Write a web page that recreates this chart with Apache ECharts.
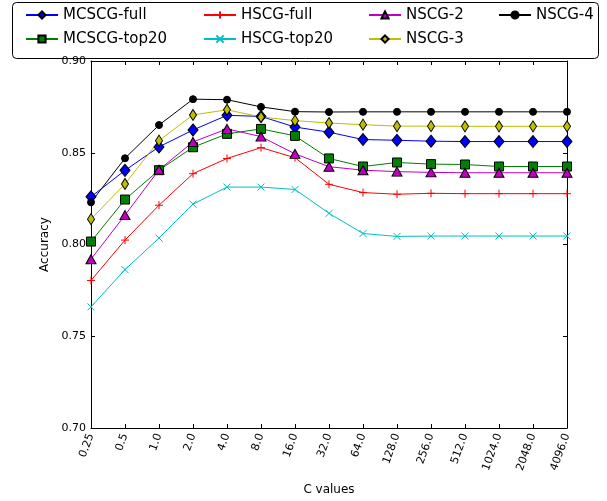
<!DOCTYPE html>
<html>
<head>
<meta charset="utf-8">
<script src="https://cdn.jsdelivr.net/npm/echarts@6/dist/echarts.min.js"></script>
<style>html,body{margin:0;padding:0;background:#fff}#c{width:607px;height:501px}</style>
</head>
<body>
<div id="c"></div>
<script>
const cValues = ['0.25','0.5','1.0','2.0','4.0','8.0','16.0','32.0','64.0','128.0','256.0','512.0','1024.0','2048.0','4096.0'];
const mcscgFull  = [0.826, 0.8404, 0.8532, 0.8624, 0.8704, 0.8698, 0.864, 0.8612, 0.8572, 0.8568, 0.8563, 0.8561, 0.8561, 0.8561, 0.8561];
const mcscgTop20 = [0.8016, 0.8245, 0.8405, 0.853, 0.8603, 0.863, 0.8592, 0.8469, 0.8425, 0.8447, 0.8438, 0.8436, 0.8425, 0.8425, 0.8425];
const hscgFull   = [0.7804, 0.8024, 0.8214, 0.8386, 0.8469, 0.8528, 0.8473, 0.8328, 0.8283, 0.8274, 0.8279, 0.8277, 0.8277, 0.8277, 0.8277];
const hscgTop20  = [0.766, 0.7863, 0.8035, 0.822, 0.8313, 0.8313, 0.830, 0.817, 0.806, 0.8044, 0.8046, 0.8046, 0.8046, 0.8046, 0.8046];
const nscg2      = [0.792, 0.816, 0.8407, 0.8559, 0.863, 0.8588, 0.8494, 0.8424, 0.8405, 0.8397, 0.8393, 0.8391, 0.8391, 0.8391, 0.8391];
const nscg3      = [0.8138, 0.833, 0.8566, 0.8706, 0.8734, 0.8695, 0.8675, 0.8662, 0.8653, 0.8645, 0.8645, 0.8644, 0.8644, 0.8644, 0.8644];
const nscg4      = [0.823, 0.847, 0.8651, 0.8792, 0.8789, 0.875, 0.8724, 0.8722, 0.8723, 0.8723, 0.8723, 0.8723, 0.8723, 0.8723, 0.8723];
const yTicks = [0.70, 0.75, 0.80, 0.85, 0.90];

const FONT = 'DejaVu Sans';
const chart = echarts.init(document.getElementById('c'), null, {renderer: 'canvas'});

function mk(name, data, color, symbol, size, stroke) {
  return {
    name: name, type: 'line', data: data, xAxisIndex: 0, yAxisIndex: 0,
    symbol: symbol, symbolSize: size, showAllSymbol: true,
    lineStyle: {color: color, width: 1},
    itemStyle: stroke ? {color: color, borderColor: color, borderWidth: 1}
                      : {color: color, borderColor: '#000', borderWidth: 1},
    emphasis: {disabled: true}
  };
}
const PLUS = 'path://M5,0L5,10M0,5L10,5';
const CROSS = 'path://M0,0L10,10M0,10L10,0';

function legendCol(left, items) {
  return {
    orient: 'vertical', left: left, top: 7, padding: 0,
    itemGap: 8, itemWidth: 32, itemHeight: 9,
    textStyle: {fontFamily: FONT, fontSize: 15, color: '#000', lineHeight: 16},
    data: items
  };
}

const catAxisBase = {
  type: 'category', data: cValues, boundaryGap: false,
  axisLine: {show: true, lineStyle: {color: '#000', width: 1}},
  axisTick: {show: true, inside: true, length: 4, interval: 0, lineStyle: {color: '#000'}},
  splitLine: {show: false}
};
const valAxisBase = {
  type: 'value', min: yTicks[0], max: yTicks[yTicks.length - 1], interval: 0.05,
  axisLine: {show: true, lineStyle: {color: '#000', width: 1}},
  axisTick: {show: true, inside: true, length: 4, lineStyle: {color: '#000'}},
  splitLine: {show: false}
};

chart.setOption({
  animation: false,
  backgroundColor: '#fff',
  grid: {left: 91, right: 40, top: 61, bottom: 72, containLabel: false},
  graphic: [{
    type: 'rect', left: 12, top: 2, z: 0,
    shape: {width: 586, height: 56, r: 4},
    style: {fill: '#fff', stroke: '#000', lineWidth: 1}
  }],
  legend: [
    legendCol(25, ['MCSCG-full', 'MCSCG-top20']),
    legendCol(203, ['HSCG-full', 'HSCG-top20']),
    legendCol(368, ['NSCG-2', 'NSCG-3']),
    legendCol(498, ['NSCG-4'])
  ],
  xAxis: [
    Object.assign({}, catAxisBase, {
      position: 'bottom', name: 'C values', nameLocation: 'middle', nameGap: 56,
      nameTextStyle: {fontFamily: FONT, fontSize: 12, color: '#000'},
      axisLabel: {interval: 0, rotate: 70, margin: 6, fontFamily: FONT, fontSize: 11, color: '#000'}
    }),
    Object.assign({}, catAxisBase, {position: 'top', axisLabel: {show: false}})
  ],
  yAxis: [
    Object.assign({}, valAxisBase, {
      position: 'left', name: 'Accuracy', nameLocation: 'middle', nameGap: 33,
      nameTextStyle: {fontFamily: FONT, fontSize: 12, color: '#000'},
      axisLabel: {margin: 5, fontFamily: FONT, fontSize: 11, color: '#000', formatter: v => v.toFixed(2)}
    }),
    Object.assign({}, valAxisBase, {position: 'right', axisLabel: {show: false}})
  ],
  series: [
    mk('MCSCG-full', mcscgFull, '#0000ff', 'diamond', [10, 12], false),
    mk('MCSCG-top20', mcscgTop20, '#008000', 'rect', 9, false),
    mk('HSCG-full', hscgFull, '#ff0000', PLUS, 8, true),
    mk('HSCG-top20', hscgTop20, '#00bfbf', CROSS, 7, true),
    mk('NSCG-2', nscg2, '#bf00bf', 'triangle', [10, 9], false),
    mk('NSCG-3', nscg3, '#bfbf00', 'diamond', [7, 11], false),
    mk('NSCG-4', nscg4, '#000000', 'circle', 7, false)
  ]
});
</script>
</body>
</html>
